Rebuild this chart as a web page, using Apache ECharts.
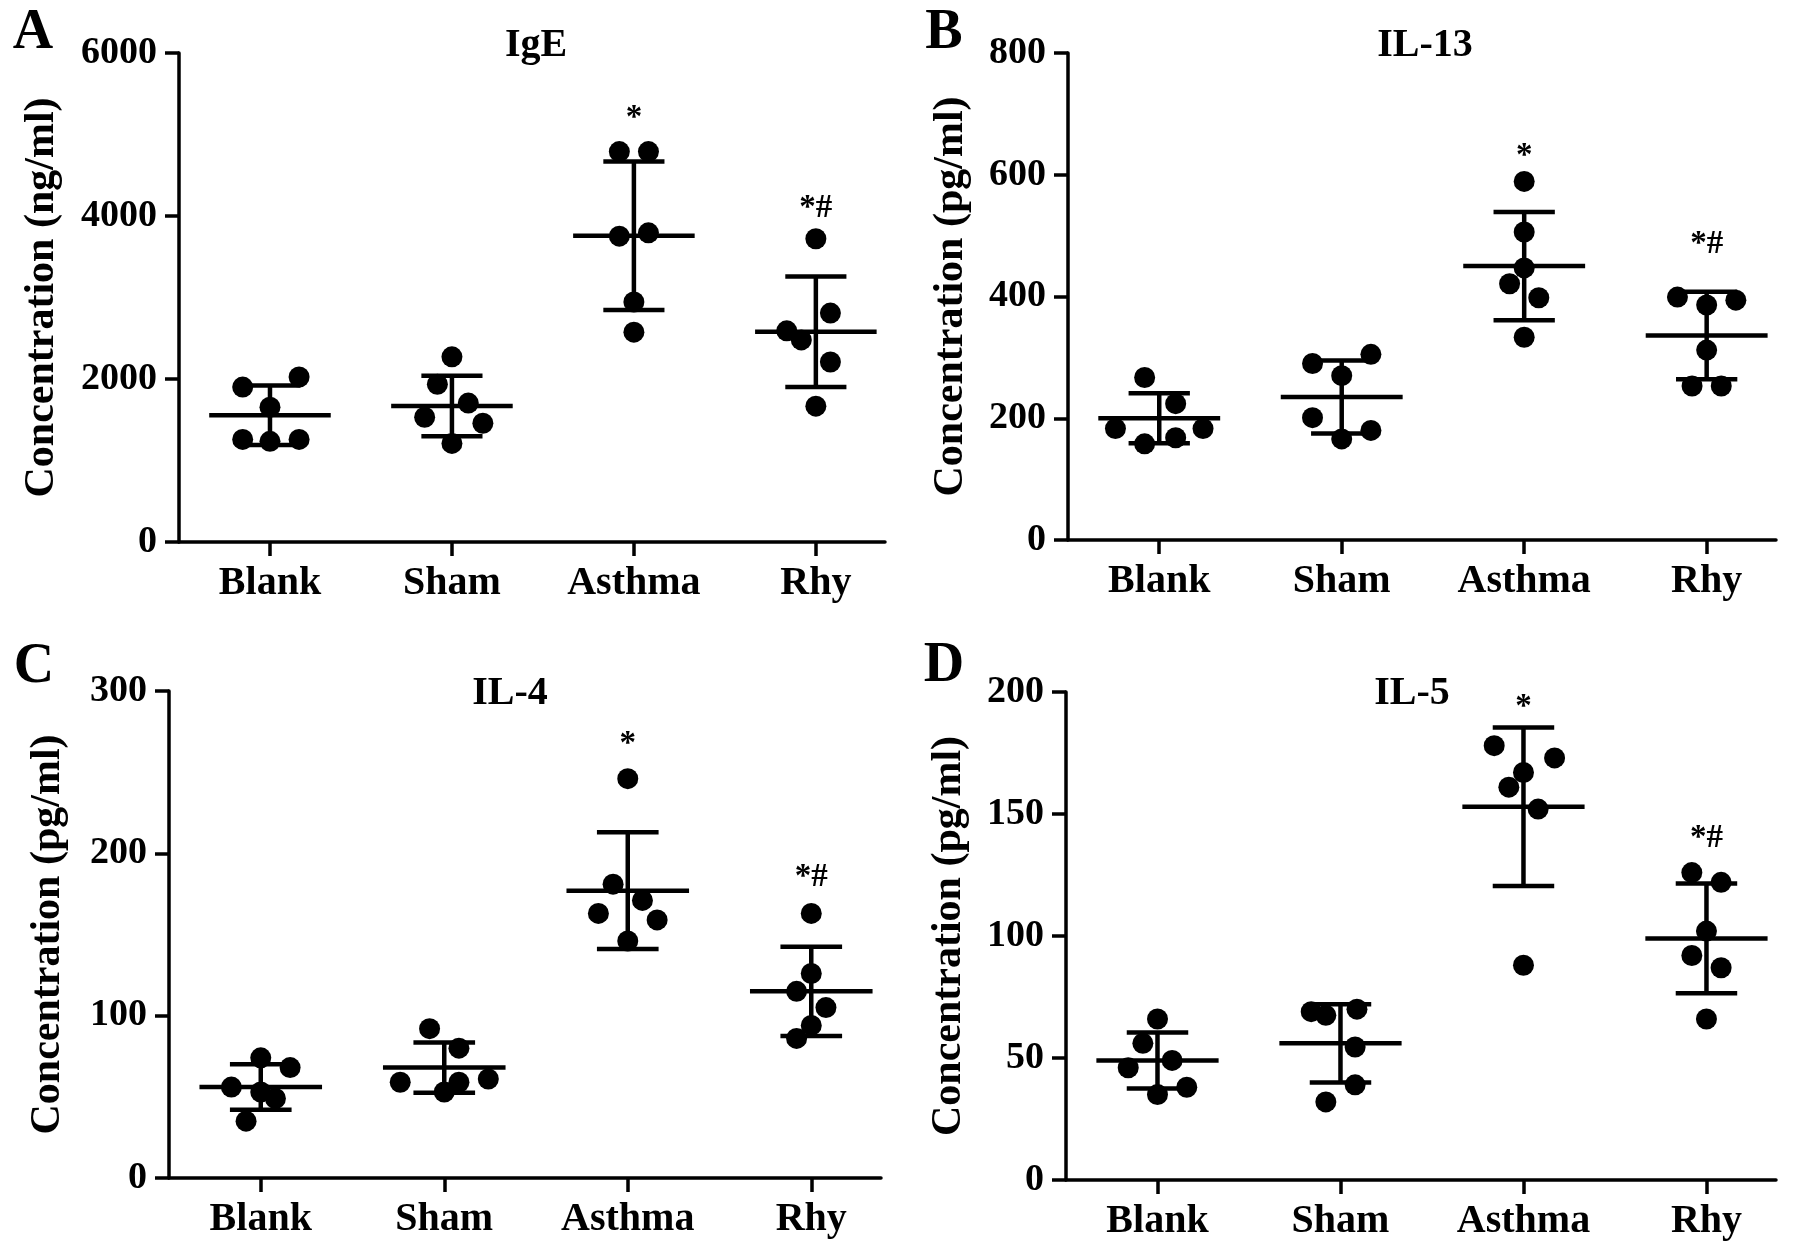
<!DOCTYPE html>
<html><head><meta charset="utf-8">
<script src="https://cdn.jsdelivr.net/npm/echarts@6/dist/echarts.min.js"></script>
<style>html,body{margin:0;padding:0;background:#fff}#chart{width:1795px;height:1258px}</style>
</head><body><div id="chart"></div>
<script>
// ---- data ----
const categories = ['Blank', 'Sham', 'Asthma', 'Rhy'];
const panelTitles = ['IgE', 'IL-13', 'IL-4', 'IL-5'];
const panelLetters = ['A', 'B', 'C', 'D'];
const yAxisNames = ['Concentration (ng/ml)', 'Concentration (pg/ml)', 'Concentration (pg/ml)', 'Concentration (pg/ml)'];
const yMaxes = [6000, 800, 300, 200];
const yIntervals = [2000, 200, 100, 50];

const igeValues = [[1901, 2025, 1654, 1259, 1235, 1259], [2272, 1936, 1704, 1531, 1457, 1210], [4790, 4790, 3753, 3793, 2945, 2575], [3721, 2809, 2591, 2480, 2209, 1667]];
const igeJitter = [[-0.15, 0.16, 0, -0.15, 0, 0.16], [0, -0.08, 0.09, -0.15, 0.17, 0], [-0.08, 0.08, -0.08, 0.08, 0, 0], [0, 0.08, -0.16, -0.08, 0.08, 0]];
const igeMean = [1556, 1669, 3758, 2579];
const igeSD = [365, 370, 910, 678];

const il13Values = [[267, 183, 224, 158, 168, 183], [305, 290, 270, 201, 180, 166], [589, 506, 447, 421, 398, 333], [399, 394, 386, 312, 253, 253]];
const il13Jitter = [[-0.08, -0.24, 0.09, -0.08, 0.09, 0.24], [0.16, -0.16, 0, -0.16, 0.16, 0], [0, 0, 0, -0.08, 0.08, 0], [-0.16, 0.16, 0, 0, -0.08, 0.08]];
const il13Mean = [200, 235, 450, 336];
const il13SD = [41, 60, 89, 72];

const il4Values = [[74, 68, 56, 53, 49, 35], [92, 80, 59, 53, 59, 61], [246, 181, 171, 163, 159, 146], [163, 126, 115, 105, 94, 86]];
const il4Jitter = [[0, 0.16, -0.16, 0, 0.08, -0.08], [-0.08, 0.08, -0.24, 0, 0.08, 0.24], [0, -0.08, 0.08, -0.16, 0.16, 0], [0, 0, -0.08, 0.08, 0, -0.08]];
const il4Mean = [56, 68, 177, 115];
const il4SD = [14, 15.5, 36, 27.5];

const il5Values = [[66, 56, 49, 46, 38, 35], [69, 67.5, 70, 54.5, 39, 32], [178, 173, 167, 161, 152, 88], [126, 122, 102, 92, 87, 66]];
const il5Jitter = [[0, -0.08, 0.08, -0.16, 0.16, 0], [-0.16, -0.08, 0.09, 0.08, 0.08, -0.08], [-0.16, 0.17, 0, -0.08, 0.08, 0], [-0.08, 0.08, 0, -0.08, 0.08, 0]];
const il5Mean = [49, 56, 153, 99];
const il5SD = [11.5, 16, 32.5, 22.5];

const sigTexts = ['*', '*#'];        // over Asthma and Rhy
const sigCategories = [3, 4];
const igeSigY = [5292, 4131];
const il13SigY = [643, 491];
const il4SigY = [272, 187];
const il5SigY = [197, 141];

// ---- layout / style ----
const FONT = '"Liberation Serif", "Times New Roman", Times, serif';
const BLACK = '#000';
const panels = [
  { values: igeValues, jitter: igeJitter, mean: igeMean, sd: igeSD, sigY: igeSigY,
    grid: { left: 179, top: 53, width: 706, height: 489 }, nameGap: 116, letter: [33, 34], title: [536, 46] },
  { values: il13Values, jitter: il13Jitter, mean: il13Mean, sd: il13SD, sigY: il13SigY,
    grid: { left: 1068, top: 53, width: 708, height: 487 }, nameGap: 96, letter: [944, 34], title: [1425, 46] },
  { values: il4Values, jitter: il4Jitter, mean: il4Mean, sd: il4SD, sigY: il4SigY,
    grid: { left: 169, top: 691, width: 712, height: 487 }, nameGap: 100, letter: [34, 668], title: [510, 694] },
  { values: il5Values, jitter: il5Jitter, mean: il5Mean, sd: il5SD, sigY: il5SigY,
    grid: { left: 1066, top: 692, width: 710, height: 488 }, nameGap: 96, letter: [944, 667], title: [1412, 694] }
];
const X_MIN = 0.5, X_MAX = 4.38;
const MEAN_HALF = 0.334, CAP_HALF = 0.168;

const grid = [], xAxis = [], yAxis = [], series = [], graphic = [];
const axisLineStyle = { color: BLACK, width: 3.5 };
const labelStyle = { fontFamily: FONT, fontWeight: 'bold', color: BLACK };

panels.forEach((p, i) => {
  grid.push(Object.assign({ containLabel: false }, p.grid));
  xAxis.push({
    gridIndex: i, type: 'value', min: X_MIN, max: X_MAX,
    splitLine: { show: false },
    axisLine: { show: true, onZero: false, lineStyle: axisLineStyle },
    axisTick: { show: true, customValues: [1, 2, 3, 4], length: 14, lineStyle: axisLineStyle },
    axisLabel: Object.assign({ customValues: [1, 2, 3, 4], margin: 22, fontSize: 40,
      formatter: v => categories[Math.round(v) - 1] }, labelStyle)
  });
  yAxis.push({
    gridIndex: i, type: 'value', min: 0, max: yMaxes[i], interval: yIntervals[i],
    name: yAxisNames[i], nameLocation: 'middle', nameGap: p.nameGap,
    nameTextStyle: Object.assign({ fontSize: 42 }, labelStyle),
    splitLine: { show: false },
    axisLine: { show: true, lineStyle: axisLineStyle },
    axisTick: { show: true, length: 14, lineStyle: axisLineStyle },
    axisLabel: Object.assign({ margin: 22, fontSize: 38, formatter: v => String(v) }, labelStyle)
  });
  // points
  const pts = [];
  p.values.forEach((grp, j) => grp.forEach((v, k) => pts.push([j + 1 + p.jitter[j][k], v])));
  series.push({
    type: 'scatter', xAxisIndex: i, yAxisIndex: i, data: pts,
    symbol: 'circle', symbolSize: 21, itemStyle: { color: BLACK, opacity: 1 }, silent: true, z: 2
  });
  // mean +/- SD
  series.push({
    type: 'custom', xAxisIndex: i, yAxisIndex: i, z: 3, silent: true,
    data: categories.map((c, j) => [j + 1, p.mean[j], p.sd[j]]),
    encode: { x: 0, y: 1 },
    renderItem: (params, api) => {
      const x = api.value(0), m = api.value(1), s = api.value(2);
      const c = (a, b) => api.coord([a, b]);
      const st = { stroke: BLACK, lineWidth: 4.5, fill: null };
      const seg = (a, b) => ({ type: 'line', shape: { x1: a[0], y1: a[1], x2: b[0], y2: b[1] }, style: st });
      return { type: 'group', children: [
        seg(c(x - MEAN_HALF, m), c(x + MEAN_HALF, m)),
        seg(c(x, m - s), c(x, m + s)),
        seg(c(x - CAP_HALF, m + s), c(x + CAP_HALF, m + s)),
        seg(c(x - CAP_HALF, m - s), c(x + CAP_HALF, m - s))
      ] };
    }
  });
  // significance marks
  series.push({
    type: 'custom', xAxisIndex: i, yAxisIndex: i, z: 4, silent: true,
    data: sigCategories.map((cat, j) => [cat, p.sigY[j], j]),
    encode: { x: 0, y: 1 },
    renderItem: (params, api) => {
      const pt = api.coord([api.value(0), api.value(1)]);
      const t = sigTexts[api.value(2)];
      return { type: 'text', x: pt[0], y: pt[1] + (t === '*' ? 8 : 3), style: {
        text: t, fill: BLACK, font: 'bold 33px ' + FONT,
        textAlign: 'center', textVerticalAlign: 'middle', align: 'center', verticalAlign: 'middle' } };
    }
  });
  graphic.push({ type: 'text', x: p.letter[0], y: p.letter[1], silent: true, style: {
    text: panelLetters[i], fill: BLACK, font: 'bold 56px ' + FONT,
    textAlign: 'center', textVerticalAlign: 'middle', align: 'center', verticalAlign: 'middle' } });
  graphic.push({ type: 'text', x: p.title[0], y: p.title[1], silent: true, style: {
    text: panelTitles[i], fill: BLACK, font: 'bold 40px ' + FONT,
    textAlign: 'center', textVerticalAlign: 'middle', align: 'center', verticalAlign: 'middle' } });
});

const chart = echarts.init(document.getElementById('chart'), null, { renderer: 'canvas' });
chart.setOption({ backgroundColor: '#fff', animation: false, grid, xAxis, yAxis, series, graphic });
</script>
</body></html>
